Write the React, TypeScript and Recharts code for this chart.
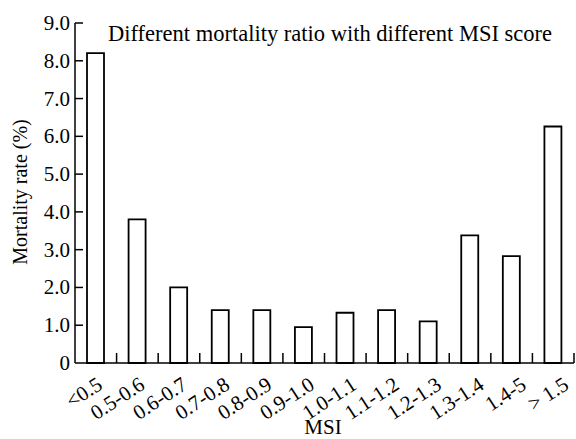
import React from 'react';
import { BarChart, Bar, XAxis, YAxis } from 'recharts';

const categories = ['<0.5', '0.5-0.6', '0.6-0.7', '0.7-0.8', '0.8-0.9', '0.9-1.0', '1.0-1.1', '1.1-1.2', '1.2-1.3', '1.3-1.4', '1.4-5', '> 1.5'];
const mortality = [8.2, 3.8, 2.0, 1.4, 1.4, 0.95, 1.33, 1.4, 1.1, 3.38, 2.83, 6.26];
const yTicks = [0, 1, 2, 3, 4, 5, 6, 7, 8, 9];

const W = 576;
const H = 439;
const LEFT = 75;
const RIGHT = 2;
const TOP = 23;
const XAXIS_H = 76;
const FONT = '"Liberation Serif", "Times New Roman", serif';

const data = categories.map((c, i) => ({ msi: c, rate: mortality[i] }));

// half a category band, so the x ticks sit between the bars
const halfBand = (W - LEFT - RIGHT) / categories.length / 2;

const XTick = ({ x, y, payload, index }: any) => {
    // labels drift a little to the right across the axis in the original
    const tx = x + 8 + index * 0.8;
    const ty = y + 25;
    return (
        <g>
            <line x1={x + halfBand} x2={x + halfBand} y1={y} y2={y - 10} stroke="#000" strokeWidth={1.5} />
            <text
                x={tx}
                y={ty}
                textAnchor="end"
                transform={`rotate(-33, ${tx}, ${ty})`}
                fontSize={21}
                fontFamily={FONT}
                fill="#000"
            >
                {payload.value}
            </text>
        </g>
    );
};

const YTick = ({ y, payload }: any) => (
    <g>
        {payload.value !== 0 && <line x1={LEFT} x2={LEFT + 8} y1={y} y2={y} stroke="#000" strokeWidth={1.5} />}
        <text x={LEFT - 5} y={y + 7} textAnchor="end" fontSize={21} fontFamily={FONT} fill="#000">
            {payload.value === 0 ? '0' : payload.value.toFixed(1)}
        </text>
    </g>
);

export default function App() {
    return (
        <div style={{ position: 'absolute', left: 0, top: 0, width: W, height: H, background: '#fff' }}>
            <BarChart width={W} height={H} data={data} margin={{ top: TOP, right: RIGHT, bottom: 0, left: 0 }}>
                <XAxis
                    dataKey="msi"
                    height={XAXIS_H}
                    interval={0}
                    tickSize={0}
                    tickMargin={0}
                    tickLine={false}
                    tick={<XTick />}
                    stroke="#000"
                    strokeWidth={1.5}
                />
                <YAxis
                    type="number"
                    domain={[0, 9]}
                    ticks={yTicks}
                    width={LEFT}
                    tickLine={false}
                    tick={<YTick />}
                    stroke="#000"
                    strokeWidth={1.5}
                />
                <Bar dataKey="rate" barSize={17} fill="#fff" stroke="#000" strokeWidth={1.8} isAnimationActive={false} />
            </BarChart>
            <svg width={W} height={H} style={{ position: 'absolute', left: 0, top: 0, pointerEvents: 'none' }}>
                <text x={108} y={41} fontSize={22.5} fontFamily={FONT} fill="#000">
                    Different mortality ratio with different MSI score
                </text>
                <text
                    x={27}
                    y={192}
                    textAnchor="middle"
                    transform="rotate(-90, 27, 192)"
                    fontSize={20}
                    fontFamily={FONT}
                    fill="#000"
                >
                    Mortality rate (%)
                </text>
                <text x={323} y={434} textAnchor="middle" fontSize={21} fontFamily={FONT} fill="#000">
                    MSI
                </text>
            </svg>
        </div>
    );
}
